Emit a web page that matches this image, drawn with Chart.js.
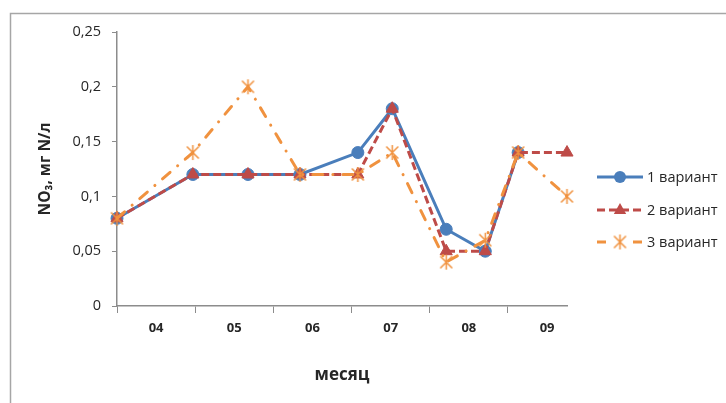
<!DOCTYPE html>
<html>
<head>
<meta charset="utf-8">
<script src="https://cdn.jsdelivr.net/npm/chart.js@4/dist/chart.umd.min.js"></script>
<style>
  html, body { margin: 0; padding: 0; background: #fff; }
  #wrap { position: relative; width: 726px; height: 403px; }
</style>
</head>
<body>
<div id="wrap"><canvas id="chart" width="726" height="403"></canvas></div>
<script>
// данные
const months   = ['04', '05', '06', '07', '08', '09'];
const xPos     = [0, 0.97, 1.675, 2.34, 3.08, 3.52, 4.21, 4.71, 5.13, 5.755];
const variant1 = [0.08, 0.12, 0.12, 0.12, 0.14, 0.18, 0.07, 0.05, 0.14, null];
const variant2 = [0.08, 0.12, 0.12, 0.12, 0.12, 0.18, 0.05, 0.05, 0.14, 0.14];
const variant3 = [0.08, 0.14, 0.20, 0.12, 0.12, 0.14, 0.04, 0.06, 0.14, 0.10];
const yTicks   = [0, 0.05, 0.1, 0.15, 0.2, 0.25];
const names    = ['1 вариант', '2 вариант', '3 вариант'];

const FONT   = '"Open Sans", "DejaVu Sans", sans-serif';
const BLUE   = '#4A7EBB';
const RED    = '#BE4B48';
const ORANGE = '#F0923F';
const AXIS   = '#8c8c8c';
const TEXT   = '#262626';

// звёздочка как в Excel: косой крест + вертикаль
function makeStar(size, color) {
  const c = document.createElement('canvas');
  c.width = size; c.height = size;
  const g = c.getContext('2d');
  const m = size / 2, r = size / 2 - 1;
  g.strokeStyle = color;
  g.lineWidth = 1.5;
  g.beginPath();
  g.moveTo(m, m - r); g.lineTo(m, m + r);
  g.moveTo(m - r * 0.8, m - r * 0.8); g.lineTo(m + r * 0.8, m + r * 0.8);
  g.moveTo(m + r * 0.8, m - r * 0.8); g.lineTo(m - r * 0.8, m + r * 0.8);
  g.stroke();
  return c;
}
const star = makeStar(17, ORANGE);

const toPts = arr => arr.map((v, i) => ({ x: xPos[i], y: v }));

const datasets = [
  { label: names[0], data: toPts(variant1), borderColor: BLUE, backgroundColor: BLUE,
    borderWidth: 3, pointStyle: 'circle', pointRadius: 6, pointBorderWidth: 1,
    order: 2, clip: false },
  { label: names[1], data: toPts(variant2), borderColor: RED, backgroundColor: RED,
    borderWidth: 3, borderDash: [8, 4], pointStyle: 'triangle', pointRadius: 7,
    pointBorderWidth: 1, order: 1, clip: false },
  { label: names[2], data: toPts(variant3), borderColor: ORANGE, backgroundColor: ORANGE,
    borderWidth: 3, borderDash: [10, 10, 0.1, 10], borderCapStyle: 'round',
    pointStyle: star, pointRadius: 8, order: 0, clip: false }
];

// рамка + легенда
const decor = {
  id: 'decor',
  beforeDraw(chart) {
    const ctx = chart.ctx;
    ctx.save();
    ctx.strokeStyle = '#a6a6a6';
    ctx.lineWidth = 1.5;
    ctx.strokeRect(10.5, 13.5, 900, 600);
    ctx.restore();
  },
  afterDraw(chart) {
    const ctx = chart.ctx;
    const rows = [177, 210, 242];
    const dashes = [[], [8, 4], [9, 9]];
    ctx.save();
    datasets.forEach((ds, i) => {
      const y = rows[i];
      ctx.strokeStyle = ds.borderColor;
      ctx.lineWidth = 3;
      ctx.setLineDash(dashes[i]);
      ctx.beginPath();
      ctx.moveTo(597, y); ctx.lineTo(643, y);
      ctx.stroke();
      ctx.setLineDash([]);
      ctx.fillStyle = ds.backgroundColor;
      const mx = 620;
      if (i === 0) {
        ctx.beginPath(); ctx.arc(mx, y, 6, 0, Math.PI * 2); ctx.fill();
      } else if (i === 1) {
        ctx.beginPath();
        ctx.moveTo(mx, y - 7); ctx.lineTo(mx + 6.2, y + 4); ctx.lineTo(mx - 6.2, y + 4);
        ctx.closePath(); ctx.fill();
      } else {
        ctx.fillStyle = '#fff';
        ctx.fillRect(mx - 9, y - 9, 18, 18);
        ctx.drawImage(star, mx - 8.5, y - 8.5);
      }
      ctx.fillStyle = TEXT;
      ctx.font = '14.5px ' + FONT;
      ctx.textBaseline = 'middle';
      ctx.fillText(ds.label, 647, y + 1);
    });
    ctx.restore();
  }
};

new Chart(document.getElementById('chart'), {
  type: 'line',
  data: { datasets },
  plugins: [decor],
  options: {
    responsive: false,
    animation: false,
    layout: { padding: { left: 0, top: 32, right: 159, bottom: 0 } },
    plugins: { legend: { display: false }, tooltip: { enabled: false } },
    elements: { line: { tension: 0 } },
    scales: {
      x: {
        type: 'linear',
        min: 0,
        max: 5.755,
        afterFit: s => { s.height = 97; },
        afterBuildTicks: s => {
          const t = [];
          for (let i = 0; i < months.length; i++) { t.push({ value: i }); t.push({ value: i + 0.5 }); }
          s.ticks = t;
        },
        border: { color: AXIS, width: 1.5 },
        grid: {
          drawOnChartArea: false,
          tickLength: 7,
          color: c => (c.tick && Number.isInteger(c.tick.value)) ? AXIS : 'rgba(0,0,0,0)'
        },
        ticks: {
          autoSkip: false,
          maxRotation: 0,
          padding: 7,
          color: TEXT,
          font: { family: FONT, size: 13, weight: 'bold' },
          callback: v => Number.isInteger(v) ? '' : months[Math.floor(v)]
        },
        title: {
          display: true,
          text: 'месяц',
          color: TEXT,
          font: { family: FONT, size: 17, weight: 'bold' },
          padding: { top: 0, bottom: 18 }
        }
      },
      y: {
        min: 0,
        max: 0.25,
        afterFit: s => { s.width = 117; },
        afterBuildTicks: s => { s.ticks = yTicks.map(v => ({ value: v })); },
        border: { color: AXIS, width: 1.5 },
        grid: { drawOnChartArea: false, tickLength: 5, color: AXIS },
        ticks: {
          padding: 11,
          color: TEXT,
          font: { family: FONT, size: 14.5 },
          callback: v => String(+v.toFixed(2)).replace('.', ',')
        },
        title: {
          display: true,
          text: 'NO₃, мг N/л',
          color: TEXT,
          font: { family: FONT, size: 15.5, weight: 'bold' },
          padding: { top: 36, bottom: 0 }
        }
      }
    }
  }
});
</script>
</body>
</html>
